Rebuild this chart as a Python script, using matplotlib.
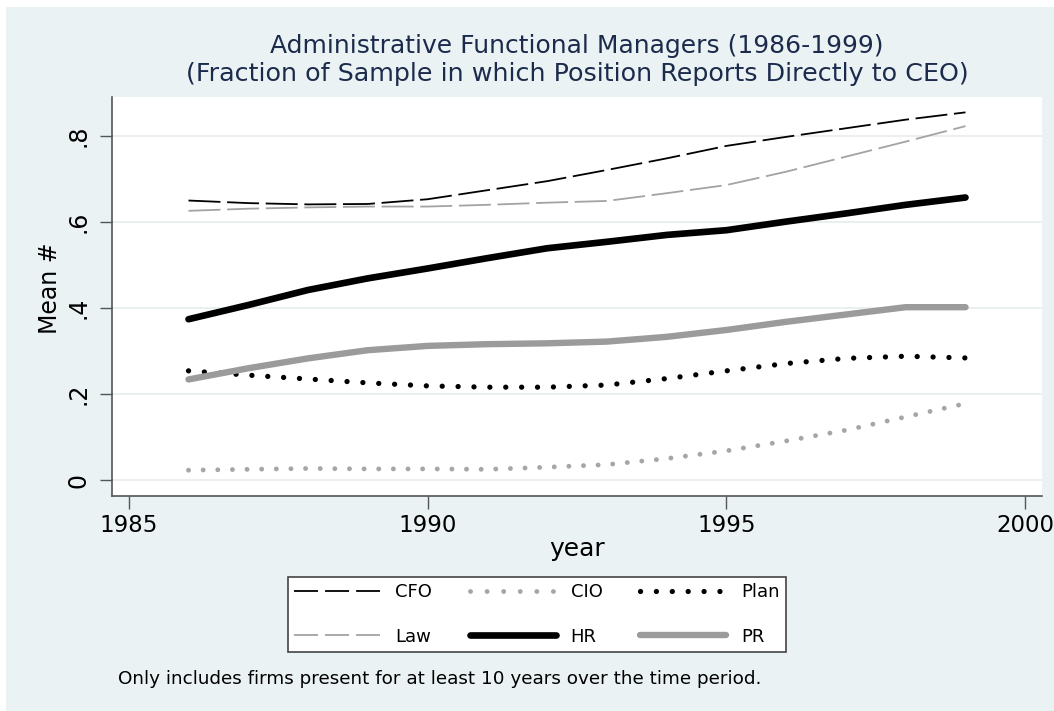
import matplotlib
matplotlib.use("Agg")
import matplotlib.pyplot as plt
from matplotlib.lines import Line2D

plt.rcParams['font.family'] = ['DejaVu Sans']

years = [1986, 1987, 1988, 1989, 1990, 1991, 1992, 1993, 1994, 1995, 1996, 1997, 1998, 1999]

cfo = [0.650, 0.644, 0.641, 0.642, 0.653, 0.674, 0.695, 0.721, 0.748, 0.777, 0.798, 0.818, 0.838, 0.855]
law = [0.626, 0.631, 0.634, 0.636, 0.636, 0.640, 0.645, 0.649, 0.667, 0.686, 0.717, 0.752, 0.787, 0.823]
hr = [0.374, 0.407, 0.442, 0.469, 0.492, 0.516, 0.539, 0.554, 0.570, 0.581, 0.601, 0.620, 0.640, 0.657]
pr = [0.234, 0.260, 0.283, 0.302, 0.312, 0.316, 0.318, 0.322, 0.333, 0.349, 0.368, 0.385, 0.402, 0.402]
plan = [0.254, 0.244, 0.235, 0.226, 0.219, 0.216, 0.216, 0.221, 0.236, 0.254, 0.271, 0.283, 0.288, 0.284]
cio = [0.023, 0.025, 0.027, 0.026, 0.026, 0.025, 0.030, 0.036, 0.050, 0.068, 0.091, 0.116, 0.147, 0.178]

xticks = [1985, 1990, 1995, 2000]
yticks = [0, 0.2, 0.4, 0.6, 0.8]
ytick_labels = ["0", ".2", ".4", ".6", ".8"]

bg = "#eaf2f3"
navy = "#1c2b4c"

fig = plt.figure(figsize=(10.54, 7.11), dpi=100)
fig.patch.set_facecolor("white")
# stata graph region (light blue-grey) inside a thin white margin
fig.patches.append(plt.Rectangle((6 / 1054, 0), 1 - 6 / 1054, 1 - 7 / 711,
                                 transform=fig.transFigure, facecolor=bg,
                                 edgecolor="none", zorder=-10))

ax = fig.add_axes([112 / 1054, 1 - 496 / 711, 930 / 1054, 399 / 711])
ax.set_facecolor("white")

dash = (0, (17.7, 3.7))
dots = (0, (0.01, 3.0))

ax.plot(years, cfo, color="black", lw=1.3, linestyle=dash)
ax.plot(years, law, color="#a3a3a3", lw=1.3, linestyle=dash)
ax.plot(years, cio, color="#a6a6a6", lw=3.5, linestyle=dots, dash_capstyle="round")
ax.plot(years, hr, color="black", lw=4.8, solid_capstyle="round")
ax.plot(years, plan, color="black", lw=3.8, linestyle=dots, dash_capstyle="round")
ax.plot(years, pr, color="#9b9b9b", lw=4.6, solid_capstyle="round")

ax.set_xlim(1984.72, 2000.28)
ax.set_ylim(-0.037, 0.8907)
ax.set_xticks(xticks)
ax.set_yticks(yticks)
ax.set_yticklabels(ytick_labels, rotation=90, va="center")
ax.tick_params(axis="both", labelsize=16.5, length=9, width=1, color="#555555", pad=4)
ax.tick_params(axis="y", labelsize=17, pad=6.5)
ax.grid(axis="y", color="#e6ecee", lw=1.2)
ax.set_axisbelow(True)
for s in ["top", "right"]:
    ax.spines[s].set_visible(False)
for s in ["left", "bottom"]:
    ax.spines[s].set_color("#555555")
    ax.spines[s].set_linewidth(1.2)

fig.text(577 / 1054, 1 - 46 / 711, "Administrative Functional Managers (1986-1999)",
         ha="center", va="center", fontsize=18, color=navy)
fig.text(577 / 1054, 1 - 74 / 711, "(Fraction of Sample in which Position Reports Directly to CEO)",
         ha="center", va="center", fontsize=18.3, color=navy)
fig.text(577 / 1054, 1 - 549 / 711, "year", ha="center", va="center", fontsize=18)
fig.text(50 / 1054, 1 - 288 / 711, "Mean #", ha="center", va="center", fontsize=17, rotation=90)
fig.text(118 / 1054, 1 - 679 / 711,
         "Only includes firms present for at least 10 years over the time period.",
         ha="left", va="center", fontsize=13.2)

# legend keys: three dashes per key like the stata legend
leg_dash = (0, (13.3, 3.9))
handles = [
    Line2D([], [], color="black", lw=1.3, linestyle=leg_dash),
    Line2D([], [], color="#a3a3a3", lw=1.3, linestyle=leg_dash),
    Line2D([], [], color="#a6a6a6", lw=3.5, linestyle=(0, (0.01, 3.4)), dash_capstyle="round"),
    Line2D([], [], color="black", lw=4.8, solid_capstyle="round"),
    Line2D([], [], color="black", lw=3.8, linestyle=(0, (0.01, 3.0)), dash_capstyle="round"),
    Line2D([], [], color="#9b9b9b", lw=4.6, solid_capstyle="round"),
]
leg = fig.legend(handles, ["CFO", "Law", "CIO", "HR", "Plan", "PR"],
                 ncol=3, loc="center", bbox_to_anchor=(537 / 1054, 1 - 614.5 / 711),
                 fontsize=13, frameon=True, fancybox=False, handlelength=4.75,
                 handletextpad=0.83, columnspacing=2.1, labelspacing=1.45,
                 borderpad=0.35)
leg.get_frame().set_edgecolor("#444444")
leg.get_frame().set_linewidth(1.2)
leg.get_frame().set_facecolor("white")
leg.get_frame().set_alpha(1)

fig.savefig("out.png", dpi=100, facecolor=fig.get_facecolor())
